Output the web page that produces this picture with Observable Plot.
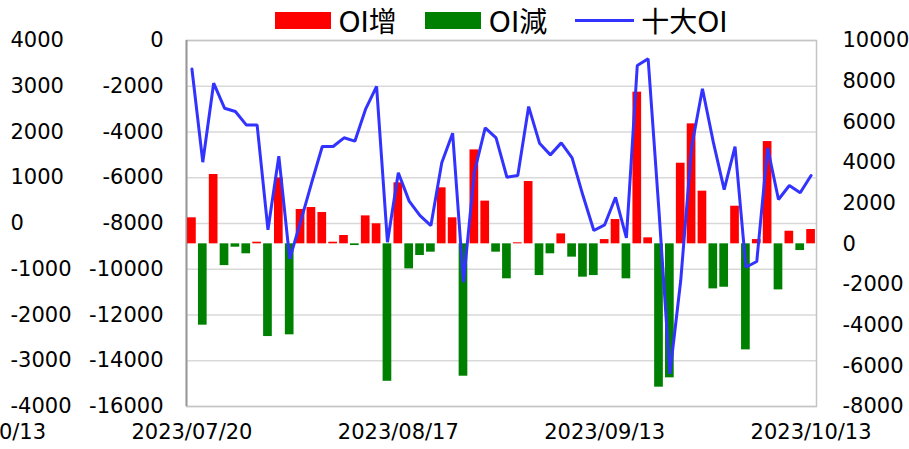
<!DOCTYPE html>
<html>
<head>
<meta charset="utf-8">
<script src="https://cdn.jsdelivr.net/npm/d3@7"></script>
<script src="https://cdn.jsdelivr.net/npm/@observablehq/plot@0.6"></script>
<style>
  body { margin: 0; background: #fff; font-family: "DejaVu Sans", "Noto Sans CJK TC", sans-serif; }
  #wrap { position: relative; width: 909px; height: 449px; overflow: hidden; background: #fff; }
  #legend { position: absolute; top: 0; left: 186px; width: 630px; height: 40px; display: flex;
            justify-content: center; align-items: center; font-size: 28px; color: #000; z-index: 2; }
  .item { display: flex; align-items: center; margin: 0 14px; white-space: nowrap; }
  .sw { width: 56px; height: 17px; margin-right: 8px; }
  .ln { width: 59px; height: 3px; margin-right: 7px; background: #3333ff; }
  #chart { position: absolute; top: 0; left: 0; }
</style>
</head>
<body>
<div id="wrap">
  <div id="legend"></div>
  <div id="chart"></div>
</div>
<script>
// ---- data ----
const seriesNames = ["OI增", "OI減", "十大OI"];
const seriesColors = ["#ff0000", "#008000", "#3333ff"];

const oiChange = [
  1280, -4000, 3410, -1070, -165, -490, 80, -4560, 3245, -4475,
  1690, 1785, 1540, 80, 410, -85, 1375, 985, -6760, 3000,
  -1230, -575, -410, 2755, 1280, -6510, 4620, 2100, -410, -1720,
  50, 3065, -1560, -490, 490, -655, -1640, -1560, 210, 1195,
  -1720, 7460, 295, -7050, -6590, 3965, 5900, 2590, -2215, -2135,
  1850, -5215, 210, 5030, -2265, 620, -330, 705
];

const top10OI = [
  8600, 4015, 7900, 6670, 6510, 5850, 5850, 690, 4310, -740,
  1080, 2965, 4785, 4785, 5215, 5050, 6640, 7740, 80, 3500,
  2100, 1390, 900, 3985, 5440, -1890, 3520, 5705, 5215, 3275,
  3360, 6750, 4950, 4375, 4965, 4230, 2375, 655, 935, 2290,
  295, 8770, 9100, 1600, -6395, -1805, 4750, 7625, 5000, 2670,
  4785, -1150, -870, 4720, 2180, 2870, 2510, 3360
];

const xLabels = ["2023/10/13", "2023/07/20", "2023/08/17", "2023/09/13", "2023/10/13"];
const xLabelIndex = [-19, 0, 19, 38, 57];

const leftOuterTicks = [4000, 3000, 2000, 1000, 0, -1000, -2000, -3000, -4000];
const leftInnerTicks = [0, -2000, -4000, -6000, -8000, -10000, -12000, -14000, -16000];
const rightTicks = [10000, 8000, 6000, 4000, 2000, 0, -2000, -4000, -6000, -8000];

// ---- legend ----
const legend = document.getElementById("legend");
seriesNames.forEach((name, k) => {
  const it = document.createElement("div");
  it.className = "item";
  const mark = document.createElement("div");
  mark.className = k < 2 ? "sw" : "ln";
  mark.style.background = seriesColors[k];
  const t = document.createElement("span");
  t.textContent = name;
  it.appendChild(mark);
  it.appendChild(t);
  legend.appendChild(it);
});

// ---- scales helpers ----
const yDomain = [-8000, 10000];
// left axes share the plot height with 8 equal intervals
const leftPos = leftOuterTicks.map((_, k) => yDomain[1] - k * (yDomain[1] - yDomain[0]) / (leftOuterTicks.length - 1));

const rows = oiChange.map((v, i) => ({ i, v, oi: top10OI[i] }));
const font = '"DejaVu Sans", "Noto Sans CJK TC", sans-serif';

const chart = Plot.plot({
  width: 909,
  height: 449,
  marginTop: 40,
  marginBottom: 43,
  marginLeft: 186,
  marginRight: 93,
  x: { type: "linear", domain: [-0.5, oiChange.length - 0.5], axis: null },
  y: { domain: yDomain, axis: null },
  style: { fontFamily: font, fontSize: "21px", color: "#000", background: "#fff", overflow: "hidden" },
  marks: [
    Plot.ruleY(leftPos, { stroke: "#d9d9d9", strokeWidth: 1.5 }),
    Plot.frame({ stroke: "#c4c4c4", strokeWidth: 1.5 }),
    Plot.ruleX([-0.5], { stroke: "#999", strokeWidth: 2 }),
    Plot.rect(rows.filter(d => d.v > 0), {
      x1: d => d.i - 0.4, x2: d => d.i + 0.4, y1: 0, y2: "v", fill: seriesColors[0]
    }),
    Plot.rect(rows.filter(d => d.v < 0), {
      x1: d => d.i - 0.4, x2: d => d.i + 0.4, y1: 0, y2: "v", fill: seriesColors[1]
    }),
    Plot.line(rows, { x: "i", y: "oi", stroke: seriesColors[2], strokeWidth: 3, strokeLinejoin: "miter" }),
    // right axis
    Plot.text(rightTicks, { y: d => d, text: d => String(d), frameAnchor: "right", dx: 26, textAnchor: "start", fontSize: 21, fill: "#000" }),
    // left inner axis
    Plot.text(leftInnerTicks, { y: (d, k) => leftPos[k], text: d => String(d), frameAnchor: "left", dx: -23, textAnchor: "end", fontSize: 21, fill: "#000" }),
    // left outer axis
    Plot.text(leftOuterTicks, { y: (d, k) => leftPos[k], text: d => String(d), frameAnchor: "left", dx: -176, textAnchor: "start", fontSize: 21, fill: "#000" }),
    // x labels
    Plot.text(xLabels, { x: (d, k) => xLabelIndex[k], text: d => d, frameAnchor: "bottom", dy: 32, fontSize: 21, fill: "#000" })
  ]
});
document.getElementById("chart").appendChild(chart);
</script>
</body>
</html>
